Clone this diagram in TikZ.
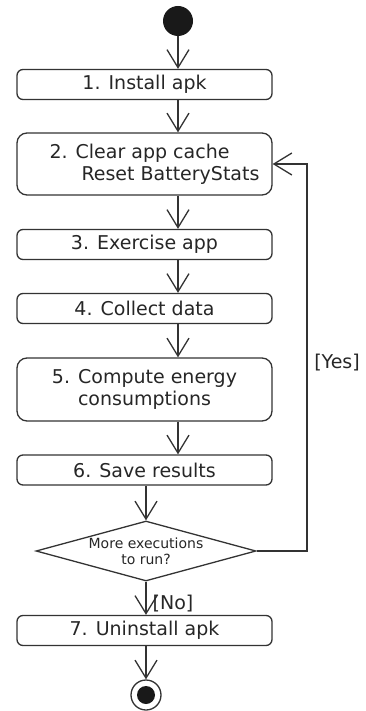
\documentclass[tikz,border=0pt]{standalone}
\usepackage{fontspec}
\setmainfont{DejaVu Sans}
\usetikzlibrary{arrows.meta,shapes.geometric}
\tikzset{
    act/.style={draw=black!80, line width=1.3pt, rounded corners=6pt, minimum width=255pt, inner sep=0pt, text=black!85, font=\fontsize{19}{22}\selectfont},
    choice/.style={draw=black!80, line width=1.3pt, diamond, aspect=3.67, minimum width=220pt, minimum height=60pt, inner sep=0pt, align=center, text=black!85, font=\fontsize{14}{16}\selectfont},
    flow/.style={draw=black!80, line width=1.3pt, -{Straight Barb[length=18pt,width=22pt]}},
    guard/.style={text=black!85, font=\fontsize{19}{22}\selectfont}
}
\begin{document}
\begin{tikzpicture}[x=1pt, y=-1pt]
    \useasboundingbox (0,0) rectangle (365,711);

    \node[circle, fill=black!90, minimum size=30pt, inner sep=0pt] (start) at (178,21) {};

    \foreach \n / \y / \t in {1/84.5/{1. Install apk}, 3/244.5/{3. Exercise app}, 4/308.5/{4. Collect data}, 6/470/{6. Save results}, 7/630.5/{7. Uninstall apk}}
        \node[act, minimum height=30pt] (a\n) at (144.5,\y) {\t};
    \node[act, minimum height=62pt, rounded corners=10pt, align=left] (a2) at (144.5,164) {\hspace*{20pt}2. Clear app cache\\\hspace*{52pt}Reset BatteryStats};
    \node[act, minimum height=63pt, rounded corners=10pt, align=center] (a5) at (144.5,389.5) {5. Compute energy\\consumptions};

    \node[choice] (dec) at (146,551) {More executions\\to run?};

    \node[circle, draw=black!80, line width=1.3pt, minimum size=30pt, inner sep=0pt,
        path picture={\fill[black!90] (path picture bounding box.center) circle (9pt);}] (stop) at (146,695) {};

    \foreach \a / \b in {start/a1, a1/a2, a2/a3, a3/a4, a4/a5, a5/a6}
        \path[flow] (\a.south -| start) -- (\b.north -| start);

    \path[flow] (a6.south -| dec) -- (dec.north);
    \path[flow] (dec.south) -- (a7.north -| dec);
    \path[flow] (a7.south -| stop) -- (stop.north);

    \coordinate (back) at (307,164);
    \path[flow] (dec.east) -| (back) -- (back -| a2.east);

    \node[guard] (yes) at (337,363) {[Yes]};
    \node[guard] (no) at (173,604) {[No]};
\end{tikzpicture}
\end{document}
